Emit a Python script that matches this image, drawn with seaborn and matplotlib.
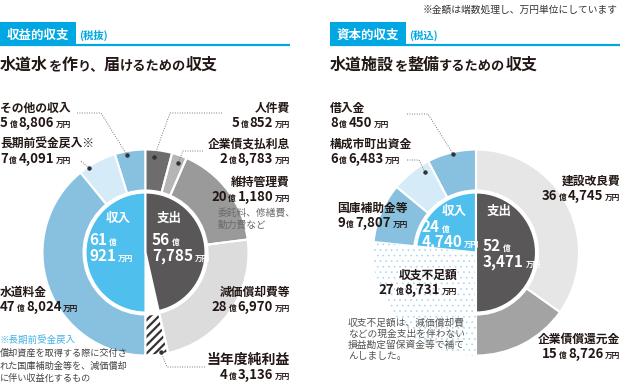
import matplotlib
matplotlib.use('Agg')
import matplotlib.pyplot as plt
from matplotlib.patches import Rectangle
import seaborn as sns

sns.set_style('white')
plt.rcParams['font.family'] = ['Noto Sans CJK JP', 'DejaVu Sans']
plt.rcParams['hatch.linewidth'] = 1.6

# 収益的収支（税抜）単位：万円
rev_labels = ['その他の収入', '長期前受金戻入※', '水道料金']
rev_values = [58806, 74091, 478024]
exp_labels = ['人件費', '企業債支払利息', '維持管理費', '減価償却費等', '当年度純利益']
exp_values = [50852, 28783, 201180, 286970, 43136]

# 資本的収支（税込）単位：万円
cap_in_labels = ['借入金', '構成市町出資金', '国庫補助金等', '収支不足額']
cap_in_values = [80450, 66483, 97807, 278731]
cap_out_labels = ['建設改良費', '企業債償還元金']
cap_out_values = [364745, 158726]

BLUE = '#4fc0ee'
MID = '#88c1df'
LIGHT = '#d5ecf8'
DARK = '#595757'
CYAN = '#00a7e2'
INK = '#231815'

R, W, RI = 103, 41, 60

fig = plt.figure(figsize=(6.2, 3.85), dpi=100)
ax = fig.add_axes([0, 0, 1, 1])
renderer = fig.canvas.get_renderer()


def Y(y):
    # 画像の上からのピクセル位置 -> データ座標
    return 385 - y


def half(values, total, center, colors, ccw, radius, width=None, hatch=None,
         edge='white', lw=1.5):
    fr = [v / (2 * total) for v in values]
    wp = dict(edgecolor=edge, linewidth=lw)
    if width:
        wp['width'] = width
    ax.pie(fr, colors=colors, startangle=90, counterclock=ccw, normalize=False,
           radius=radius, center=center, wedgeprops=wp, hatch=hatch, frame=True)


def runs(x, y, parts, ha='left', color=INK, weight='bold', gap=1.5):
    items = []
    cur = x
    for s, size in parts:
        t = ax.text(cur, Y(y), s, fontsize=size, color=color, fontweight=weight,
                    va='baseline', ha='left')
        w = t.get_window_extent(renderer).width
        items.append((t, cur))
        cur += w + gap
    total = cur - gap - x
    shift = {'left': 0, 'right': total, 'center': total / 2}[ha]
    for t, px in items:
        t.set_x(px - shift)


def amount(x, y, v, ha='left', big=9.5, small=5.5, color=INK):
    oku, man = divmod(v, 10000)
    runs(x, y, [(str(oku), big), ('億', small), (f'{man:,}', big), ('万円', small)],
         ha=ha, color=color)


def label(x, y, name, v, ha='left', size=8.5):
    ax.text(x, Y(y), name, fontsize=size, fontweight='bold', color=INK,
            ha=ha, va='baseline')
    amount(x, y + 15, v, ha=ha)


def leader(pts):
    xs = [p[0] for p in pts]
    ys = [Y(p[1]) for p in pts]
    ax.plot(xs, ys, color='#777777', lw=0.7, ls=(0, (1, 1.5)))
    ax.plot(xs[-1], ys[-1], 'o', ms=2.2, color='#333333')


# ---------- 収益的収支 ----------
c1 = (145.5, Y(252.5))
rev_total = sum(rev_values)
exp_total = sum(exp_values[:4])
half(rev_values, rev_total, c1, [MID, LIGHT, MID], True, R, width=W)
half(exp_values, rev_total, c1, ['#6d6d6d', '#b5b5b5', '#9a9a9a', '#dcdcdc', 'white'],
     False, R, width=W, hatch=['', '', '', '', '////'], edge='#333333', lw=0)
half(exp_values, rev_total, c1, ['none'] * 5, False, R, width=W)
half([rev_total], rev_total, c1, [BLUE], True, RI)
half([exp_total], rev_total, c1, [DARK], False, RI)

# ---------- 資本的収支 ----------
c2 = (476, Y(252.5))
cap_total = sum(cap_out_values)
cap_in_total = sum(cap_in_values[:3])
half(cap_out_values, cap_total, c2, ['#e6e6e6', '#a3a3a3'], False, R, width=W)
half(cap_in_values[:3], cap_total, c2, [MID, LIGHT, MID], True, R, width=W)
half([cap_in_total], cap_total, c2, [BLUE], True, RI)
with plt.rc_context({'hatch.linewidth': 0.4}):
    half([cap_in_total, cap_in_values[3]], cap_total, c2, ['none', 'white'], True, R,
         hatch=['', '...'], edge='#9fd3f0', lw=0)
half([cap_total], cap_total, c2, [DARK], False, RI)

# ---------- 見出し ----------
ax.text(618, Y(13), '※金額は端数処理し、万円単位にしています', fontsize=7,
        color='#333333', ha='right', va='baseline')
for x0, x1, head, tax in [(0, 290, '収益的収支', '(税抜)'), (330, 620, '資本的収支', '(税込)')]:
    ax.add_patch(Rectangle((x0, Y(44)), 76, 22, color=CYAN, lw=0))
    ax.plot([x0, x1], [Y(44.5), Y(44.5)], color=CYAN, lw=1.6, solid_capstyle='butt')
    ax.text(x0 + 7, Y(39), head, fontsize=9, fontweight='bold', color='white', va='baseline')
    ax.text(x0 + 79, Y(38.5), tax, fontsize=7.5, fontweight='bold', color=CYAN, va='baseline')

BIG, SM = 11.5, 9.5
runs(0, 70, [('水道水', BIG), ('を', SM), ('作', BIG), ('り、', SM), ('届', BIG),
             ('けるための', SM), ('収支', BIG)], gap=0)
runs(330, 70, [('水道施設', BIG), ('を', SM), ('整備', BIG), ('するための', SM),
               ('収支', BIG)], gap=0)

# ---------- 収益的収支のラベル ----------
label(0, 112, rev_labels[0], rev_values[0])
label(0, 148, rev_labels[1], rev_values[1])
label(0, 296, rev_labels[2], rev_values[2])
label(290, 112, exp_labels[0], exp_values[0], ha='right')
label(290, 148, exp_labels[1], exp_values[1], ha='right')
label(290, 186, exp_labels[2], exp_values[2], ha='right')
label(290, 296, exp_labels[3], exp_values[3], ha='right')
ax.text(290, Y(364), exp_labels[4], fontsize=10, fontweight='bold', color=INK,
        ha='right', va='baseline')
amount(290, 379, exp_values[4], ha='right')
ax.text(218, Y(216), '委託料、修繕費、', fontsize=7, color='#6a6a6a', va='baseline')
ax.text(218, Y(228), '動力費など', fontsize=7, color='#6a6a6a', va='baseline')

ax.text(0, Y(343), '※長期前受金戻入', fontsize=6.8, color='#3fb1e3', va='baseline')
for i, s in enumerate(['償却資産を取得する際に交付さ', 'れた国庫補助金等を、減価償却',
                       'に伴い収益化するもの']):
    ax.text(0, Y(356 + 12.5 * i), s, fontsize=6.6, color='#444444', va='baseline')

ax.text(118, Y(222), '収入', fontsize=9, fontweight='bold', color='white', ha='center', va='baseline')
ax.text(169, Y(222), '支出', fontsize=9, fontweight='bold', color='white', ha='center', va='baseline')
runs(89, 245, [(str(rev_total // 10000), 11), ('億', 5.5)], color='white')
runs(89, 261, [(f'{rev_total % 10000:,}', 11), ('万円', 5.5)], color='white')
runs(152, 245, [(str(exp_total // 10000), 11), ('億', 5.5)], color='white')
runs(152, 261, [(f'{exp_total % 10000:,}', 11), ('万円', 5.5)], color='white')

leader([(77, 113), (101, 113), (127, 155)])
leader([(222, 113), (170, 113), (154, 157)])
leader([(203, 151), (183, 151), (178, 163)])
leader([(81, 161), (89, 168)])
leader([(205, 367), (167, 367), (161, 352)])

# ---------- 資本的収支のラベル ----------
label(330, 112, cap_in_labels[0], cap_in_values[0])
label(330, 148, cap_in_labels[1], cap_in_values[1])
label(337, 212, cap_in_labels[2], cap_in_values[2])
label(457, 279, cap_in_labels[3], cap_in_values[3], ha='right')
label(620, 185, cap_out_labels[0], cap_out_values[0], ha='right')
label(620, 343, cap_out_labels[1], cap_out_values[1], ha='right')
for i, s in enumerate(['収支不足額は、減価償却費', 'などの現金支出を伴わない',
                       '損益勘定留保資金等で補て', 'んしました。']):
    ax.text(348, Y(326 + 11 * i), s, fontsize=7, color='#555555', va='baseline')

ax.text(454, Y(215), '収入', fontsize=9, fontweight='bold', color='white', ha='center', va='baseline')
ax.text(499, Y(215), '支出', fontsize=9, fontweight='bold', color='white', ha='center', va='baseline')
runs(422, 232, [(str(cap_in_total // 10000), 11), ('億', 5.5)], color='white')
runs(422, 247, [(f'{cap_in_total % 10000:,}', 11), ('万円', 5.5)], color='white')
runs(483, 251, [(str(cap_total // 10000), 11), ('億', 5.5)], color='white')
runs(483, 267, [(f'{cap_total % 10000:,}', 11), ('万円', 5.5)], color='white')

leader([(407, 114), (428, 114), (453, 154)])
leader([(407, 160), (419, 160), (425, 172)])

ax.set_xlim(0, 620)
ax.set_ylim(0, 385)
ax.axis('off')
fig.savefig('out.png', dpi=100)
